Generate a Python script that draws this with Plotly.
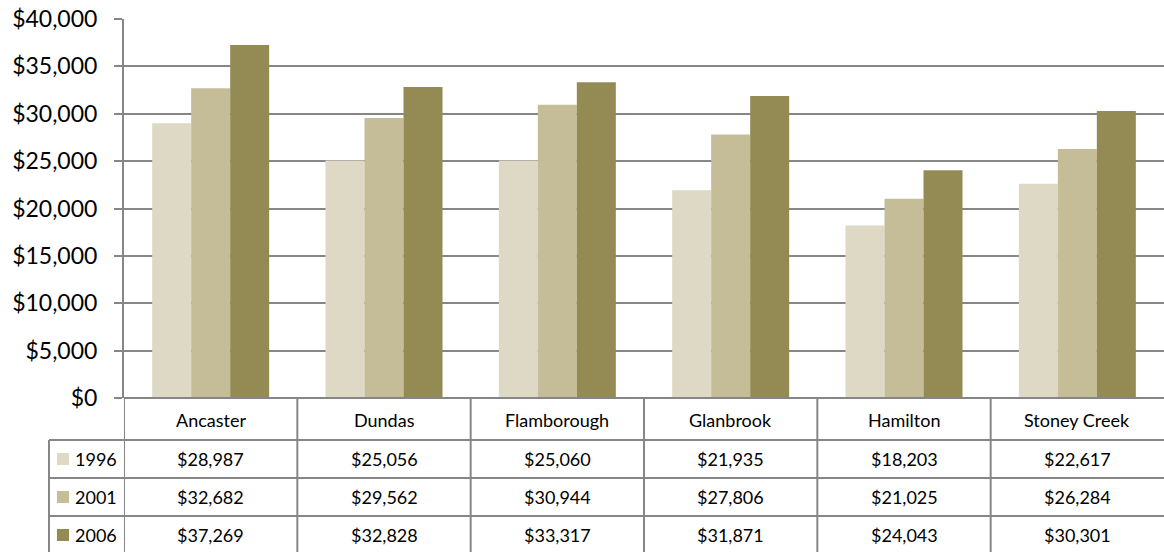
import plotly.graph_objects as go

categories = ["Ancaster", "Dundas", "Flamborough", "Glanbrook", "Hamilton", "Stoney Creek"]
years = ["1996", "2001", "2006"]
values_1996 = [28987, 25056, 25060, 21935, 18203, 22617]
values_2001 = [32682, 29562, 30944, 27806, 21025, 26284]
values_2006 = [37269, 32828, 33317, 31871, 24043, 30301]
tick_values = [0, 5000, 10000, 15000, 20000, 25000, 30000, 35000, 40000]
tick_labels = ["$0", "$5,000", "$10,000", "$15,000", "$20,000", "$25,000", "$30,000", "$35,000", "$40,000"]

series = [values_1996, values_2001, values_2006]
colors = ["#DDD9C4", "#C4BD97", "#948A54"]

FONT = "Lato"
GRID = "#868686"
W, H = 1164, 552
L, R, T, B = 124, 0, 19, 154
plot_h = H - T - B


def py(pixel_y):
    return (H - B - pixel_y) / plot_h


def px(pixel_x):
    return (pixel_x - L) / (W - L - R)


fig = go.Figure()
for name, vals, col in zip(years, series, colors):
    fig.add_trace(go.Bar(x=categories, y=vals, name=name, marker=dict(color=col, line=dict(width=0)),
                         showlegend=False))

shapes = []
annotations = []
row_lines = [398, 440, 478, 516]
for i, yl in enumerate(row_lines):
    shapes.append(dict(type="line", xref="paper", yref="paper", x0=px(49) if i >= 1 else 0, x1=1,
                       y0=py(yl), y1=py(yl), line=dict(color=GRID, width=2)))
n = len(categories)
for k in range(n):
    shapes.append(dict(type="line", xref="x", yref="paper", x0=k - 0.5, x1=k - 0.5,
                       y0=py(398), y1=py(553), line=dict(color=GRID, width=2)))
shapes.append(dict(type="line", xref="paper", yref="paper", x0=px(49), x1=px(49),
                   y0=py(440), y1=py(553), line=dict(color=GRID, width=2)))

TS = 18
for c in categories:
    annotations.append(dict(x=c, xref="x", y=py(420), yref="paper", text=c, showarrow=False,
                            font=dict(family=FONT, size=TS, color="#000000"), xanchor="center", yanchor="middle"))
row_centers = [459, 497, 535]
for yr, vals, col, yc in zip(years, series, colors, row_centers):
    shapes.append(dict(type="rect", xref="paper", yref="paper", x0=px(57), x1=px(69),
                       y0=py(yc - 6), y1=py(yc + 6), line=dict(width=0), fillcolor=col))
    annotations.append(dict(x=px(73), xref="paper", y=py(yc), yref="paper", text=yr, showarrow=False,
                            font=dict(family=FONT, size=TS, color="#000000"), xanchor="left", yanchor="middle"))
    for c, v in zip(categories, vals):
        annotations.append(dict(x=c, xref="x", y=py(yc), yref="paper", text="${:,}".format(v), showarrow=False,
                                font=dict(family=FONT, size=TS, color="#000000"), xanchor="center", yanchor="middle"))

fig.update_layout(
    width=W, height=H,
    margin=dict(l=L, r=R, t=T, b=B, pad=0),
    paper_bgcolor="white", plot_bgcolor="white",
    barmode="group", bargap=0.325, bargroupgap=0,
    shapes=shapes, annotations=annotations,
    xaxis=dict(showticklabels=False, showgrid=False, zeroline=False, showline=False, ticks="",
               range=[-0.5, n - 0.5], fixedrange=True),
    yaxis=dict(range=[0, 40000], tickvals=tick_values, ticktext=tick_labels, showgrid=True,
               gridcolor=GRID, gridwidth=2, zeroline=False, showline=True, linecolor=GRID, linewidth=2,
               ticks="outside", ticklen=8, tickcolor=GRID, tickwidth=2, ticklabelstandoff=12,
               tickfont=dict(family=FONT, size=23, color="#000000"), fixedrange=True),
    font=dict(family=FONT),
)
fig.write_html("out.html", config={"displayModeBar": False})
with open("out.html", "r", encoding="utf-8") as f:
    html = f.read()
html = html.replace("<body>", '<body style="margin:0;padding:0;overflow:hidden">', 1)
html = html.replace("<head>", '<head><style>html,body{margin:0;padding:0;}</style>', 1)
with open("out.html", "w", encoding="utf-8") as f:
    f.write(html)
